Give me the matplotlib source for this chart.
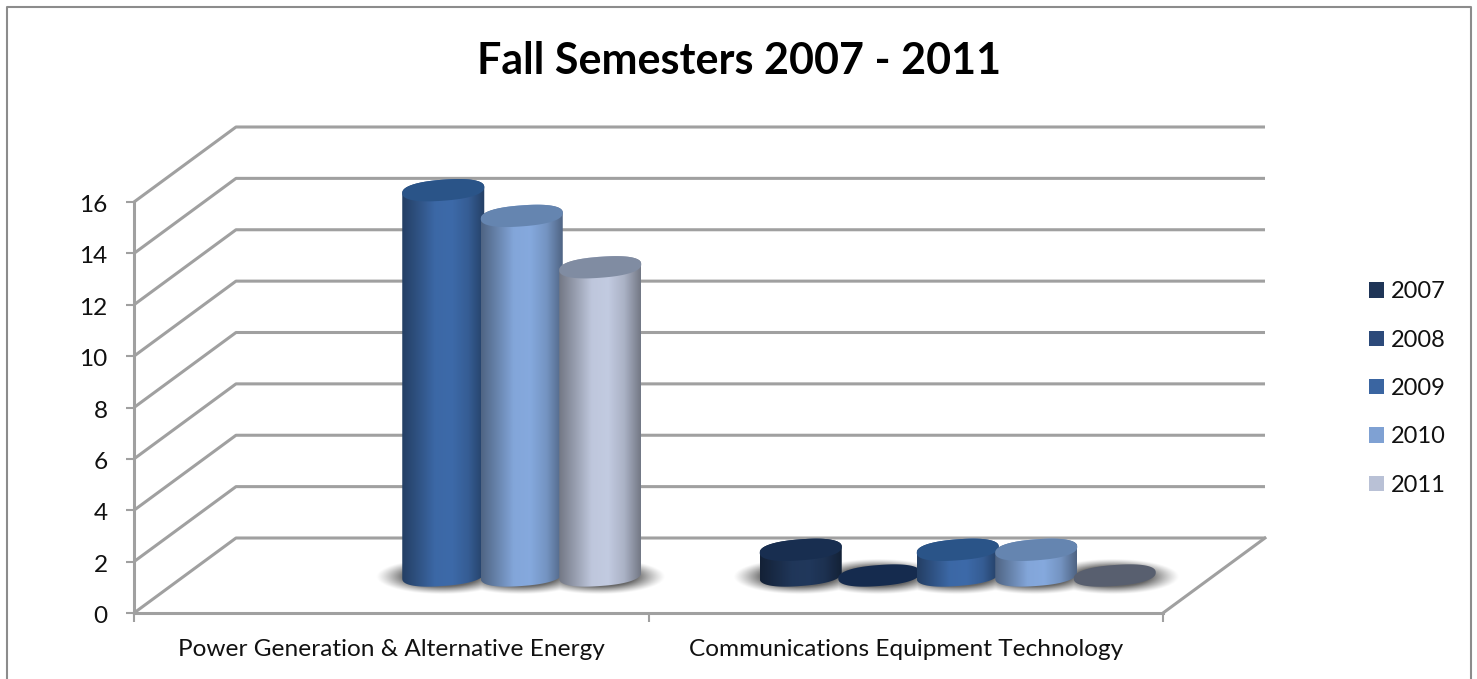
import numpy as np
import matplotlib
matplotlib.use('Agg')
import matplotlib.pyplot as plt
from matplotlib.patches import Patch, Polygon
from matplotlib.colors import LinearSegmentedColormap, to_rgb
from matplotlib.transforms import ScaledTranslation

title = 'Fall Semesters 2007 - 2011'
categories = ['Power Generation & Alternative Energy', 'Communications Equipment Technology']
years = ['2007', '2008', '2009', '2010', '2011']
power = [np.nan, np.nan, 15, 14, 12]
comm = [1, 0, 1, 1, 0]
yticks = [0, 2, 4, 6, 8, 10, 12, 14, 16]

legend_colors = ['#1f3557', '#2c4a7a', '#3a65a1', '#7fa1d3', '#b9c1d6']
top_colors = ['#182e50', '#152b4e', '#2a5488', '#6585b0', '#808ca2']
flat_colors = ['#152b4e', '#152b4e', '#2a5488', '#6585b0', '#585f6f']
line_color = '#a0a0a0'

W, H = 1477, 679
plt.rcParams['font.family'] = ['Lato', 'DejaVu Sans']

fig = plt.figure(figsize=(W / 100, H / 100), dpi=100)
# axes box is the front plane of the 3D chart
ax = fig.add_axes([134 / W, 1 - 613 / H, (1163 - 134) / W, (613 - 202) / H])
ax.set_xlim(0, 2)
ax.set_ylim(0, 16)
ax.patch.set_alpha(0)

# sizes in data units
px_x = 2 / (1163 - 134)
px_y = 16 / (613 - 202)
depth_x = 102 * px_x
depth_y = 75 * px_y
bar_step = 78.5 * px_x
bar_half = 41 * px_x
ell_h = 10.5 * px_y
ell_tilt = 3 * px_y

# walls and floor
for v in yticks:
    ax.plot([0, depth_x, 2 + depth_x], [v, v + depth_y, v + depth_y],
            color=line_color, lw=2.2, clip_on=False, solid_capstyle='butt', zorder=1)
ax.plot([2, 2 + depth_x], [0, depth_y], color=line_color, lw=2.2, clip_on=False, zorder=1)

for side in ['top', 'right']:
    ax.spines[side].set_visible(False)
for side in ['left', 'bottom']:
    ax.spines[side].set_color(line_color)
    ax.spines[side].set_linewidth(2.2)
ax.set_yticks(yticks)
ax.set_xticks([0, 1, 2])
ax.set_xticklabels([])
ax.set_xticks([0.5, 1.5], minor=True)
ax.set_xticklabels(categories, minor=True, fontsize=17.6, color='#111111')
ax.tick_params(axis='x', which='major', length=6.5, width=1.5, color=line_color)
ax.tick_params(axis='x', which='minor', length=0, pad=18.5)
ax.tick_params(axis='y', length=6, width=1.5, color=line_color, labelsize=17.6, labelcolor='#111111', pad=13)

# y labels sit a little under their ticks
label_shift = ScaledTranslation(0, -1.5 / 100, fig.dpi_scale_trans)
for lab in ax.get_yticklabels():
    lab.set_transform(lab.get_transform() + label_shift)


def ellipse_pts(cx, cy, t):
    # slightly squared ellipse, tilted up to the right
    c = np.sign(np.cos(t)) * np.abs(np.cos(t)) ** 0.85
    s = np.sign(np.sin(t)) * np.abs(np.sin(t)) ** 0.85
    return np.column_stack([cx + bar_half * c, cy + ell_h * s + ell_tilt * c])


def gradient_fill(poly_pts, x0, x1, y0, y1, colors, z):
    cmap = LinearSegmentedColormap.from_list('g', colors)
    grad = np.linspace(0, 1, 256).reshape(1, -1)
    im = ax.imshow(grad, extent=[x0, x1, y0, y1], cmap=cmap, aspect='auto',
                   interpolation='bilinear', zorder=z)
    poly = Polygon(poly_pts, transform=ax.transData, fc='none', ec='none')
    ax.add_patch(poly)
    im.set_clip_box(fig.bbox)
    im.set_clip_path(poly)


def shade(color, f):
    return tuple(min(1, c * f) for c in to_rgb(color))


def draw_shadow(center, values):
    xs = np.linspace(center - 4.4 * bar_step, center + 4.4 * bar_step, 500)
    ys = np.linspace(-1 + depth_y / 2, 1.2 + depth_y / 2, 90)
    X, Y = np.meshgrid(xs, ys)
    alpha = np.zeros_like(X)
    for i, v in enumerate(values):
        if np.isnan(v):
            continue
        cx = center + (i - 2) * bar_step + depth_x / 2
        r = np.sqrt(((X - cx) / (bar_half * 1.62)) ** 2 + ((Y - (depth_y / 2 - 1.5 * px_y)) / (ell_h * 1.7)) ** 2)
        alpha = np.maximum(alpha, np.clip((1.0 - r) / 0.45, 0, 1))
    rgba = np.zeros(X.shape + (4,))
    rgba[..., 3] = 0.6 * alpha ** 1.2
    im = ax.imshow(rgba, extent=[xs[0], xs[-1], ys[0], ys[-1]], origin='lower', aspect='auto',
                   interpolation='bilinear', zorder=2)
    im.set_clip_on(False)


def draw_bars(center, values):
    draw_shadow(center, values)
    base_y = depth_y / 2
    for i, v in enumerate(values):
        if np.isnan(v):
            continue
        cx = center + (i - 2) * bar_step + depth_x / 2 + px_x
        z = 3 + i
        t_all = np.linspace(0, 2 * np.pi, 160)
        if v == 0:
            ax.add_patch(Polygon(ellipse_pts(cx, base_y, t_all), fc=flat_colors[i], ec='none', zorder=z, clip_on=False))
            continue
        top_y = base_y + v
        bottom = ellipse_pts(cx, base_y, np.linspace(np.pi, 2 * np.pi, 80))
        upper = ellipse_pts(cx, top_y, np.linspace(0, np.pi, 80))
        body = np.vstack([bottom, upper])
        col = legend_colors[i]
        stops = [shade(col, 0.62), shade(col, 0.82), shade(col, 1.03), shade(col, 1.05),
                 shade(col, 0.92), shade(col, 0.62)]
        gradient_fill(body, cx - bar_half, cx + bar_half, base_y - 1, top_y + 1, stops, z)
        top = ellipse_pts(cx, top_y, t_all)
        ax.add_patch(Polygon(top, fc=top_colors[i], ec='none', zorder=z + 0.1, clip_on=False))


draw_bars(0.5, power)
draw_bars(1.5, comm)

ax.set_xlim(0, 2)
ax.set_ylim(0, 16)

handles = [Patch(fc=c, ec='none', label=y) for c, y in zip(legend_colors, years)]
fig.legend(handles=handles, loc='center left', bbox_to_anchor=(1369 / W, 1 - 388.5 / H), frameon=False,
           fontsize=17, handlelength=0.63, handleheight=0.63, handletextpad=0.3,
           labelspacing=1.155, labelcolor='#111111', borderpad=0, borderaxespad=0)

fig.text(739 / W, 1 - 61 / H, title, ha='center', va='center', fontsize=31, fontweight='bold', color='#000000')

# chart frame
fig.add_artist(plt.Line2D([7.5 / W, 7.5 / W, 1471 / W, 1471 / W], [0, 1 - 7 / H, 1 - 7 / H, 0],
                          color='#8c8c8c', lw=1.5, transform=fig.transFigure))

fig.savefig('out.png', dpi=100)
